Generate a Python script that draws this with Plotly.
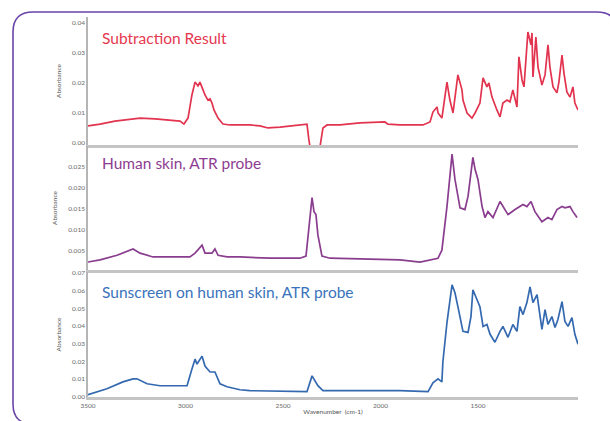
import plotly.graph_objects as go
from plotly.subplots import make_subplots

# ---- spectra (wavenumber in cm-1, absorbance) ----
sub_wn = [3500, 3438, 3362, 3285, 3233, 3156, 3079, 3028, 3008, 2987, 2967, 2951, 2936, 2926,
          2910, 2900, 2885, 2874, 2864, 2854, 2833, 2808, 2772, 2669, 2618, 2577, 2515, 2413,
          2377, 2367, 2351, 2321, 2310, 2295, 2274, 2208, 2105, 1977, 1962, 1900, 1782, 1746,
          1731, 1710, 1705, 1685, 1659, 1644, 1628, 1603, 1582, 1577, 1556, 1531, 1515, 1490,
          1474, 1454, 1444, 1428, 1403, 1387, 1372, 1351, 1336, 1321, 1300, 1290, 1274, 1264,
          1244, 1228, 1223, 1218, 1203, 1192, 1172, 1156, 1141, 1131, 1115, 1095, 1085, 1069,
          1059, 1044, 1028, 1013, 1003, 987]
sub_abs = [0.0057, 0.0063, 0.0073, 0.0080, 0.0083, 0.0080, 0.0077, 0.0073, 0.0063, 0.0083,
           0.0160, 0.0203, 0.0190, 0.0203, 0.0177, 0.0160, 0.0143, 0.0147, 0.0133, 0.0110,
           0.0083, 0.0063, 0.0060, 0.0060, 0.0057, 0.0050, 0.0053, 0.0060, 0.0063, 0.0010,
           -0.0057, -0.0057, -0.0007, 0.0050, 0.0060, 0.0060, 0.0067, 0.0070, 0.0063, 0.0060,
           0.0060, 0.0070, 0.0103, 0.0120, 0.0100, 0.0083, 0.0203, 0.0143, 0.0100, 0.0227,
           0.0177, 0.0143, 0.0100, 0.0083, 0.0100, 0.0133, 0.0217, 0.0187, 0.0200, 0.0153,
           0.0110, 0.0087, 0.0133, 0.0143, 0.0137, 0.0177, 0.0120, 0.0287, 0.0210, 0.0187,
           0.0370, 0.0327, 0.0367, 0.0220, 0.0353, 0.0253, 0.0193, 0.0227, 0.0327, 0.0253,
           0.0187, 0.0167, 0.0203, 0.0293, 0.0233, 0.0170, 0.0153, 0.0187, 0.0133, 0.0110]

skin_wn = [3500, 3438, 3351, 3285, 3269, 3233, 3167, 3064, 2977, 2951, 2915, 2900, 2864, 2849,
           2833, 2787, 2721, 2567, 2413, 2382, 2367, 2351, 2341, 2331, 2321, 2300, 2259, 2105,
           1900, 1797, 1705, 1685, 1659, 1633, 1618, 1592, 1567, 1551, 1526, 1515, 1500, 1479,
           1464, 1449, 1423, 1387, 1372, 1346, 1310, 1269, 1249, 1228, 1208, 1172, 1141, 1121,
           1095, 1069, 1054, 1028, 1013, 992]
skin_abs = [0.0024, 0.0029, 0.0040, 0.0052, 0.0055, 0.0045, 0.0036, 0.0036, 0.0036, 0.0045,
            0.0064, 0.0045, 0.0045, 0.0055, 0.0040, 0.0036, 0.0036, 0.0033, 0.0033, 0.0038,
            0.0100, 0.0176, 0.0143, 0.0136, 0.0088, 0.0038, 0.0033, 0.0031, 0.0029, 0.0024,
            0.0033, 0.0052, 0.0155, 0.0279, 0.0219, 0.0152, 0.0148, 0.0179, 0.0271, 0.0243,
            0.0219, 0.0155, 0.0129, 0.0143, 0.0129, 0.0167, 0.0155, 0.0136, 0.0148, 0.0160,
            0.0155, 0.0167, 0.0143, 0.0119, 0.0129, 0.0124, 0.0148, 0.0155, 0.0152, 0.0155,
            0.0143, 0.0129]

sun_wn = [3500, 3403, 3321, 3269, 3249, 3197, 3131, 3064, 2992, 2967, 2951, 2941, 2915, 2900,
          2874, 2849, 2823, 2787, 2721, 2669, 2413, 2377, 2351, 2336, 2321, 2295, 2156, 1900,
          1756, 1731, 1705, 1685, 1680, 1659, 1633, 1618, 1603, 1577, 1551, 1536, 1526, 1505,
          1490, 1474, 1454, 1438, 1413, 1387, 1372, 1346, 1321, 1300, 1285, 1269, 1249, 1233,
          1218, 1197, 1172, 1156, 1141, 1121, 1105, 1090, 1069, 1054, 1038, 1018, 1003, 987]
sun_abs = [0.0010, 0.0044, 0.0083, 0.0100, 0.0100, 0.0072, 0.0061, 0.0061, 0.0061, 0.0156,
           0.0212, 0.0184, 0.0229, 0.0173, 0.0139, 0.0139, 0.0072, 0.0055, 0.0038, 0.0033,
           0.0027, 0.0027, 0.0117, 0.0089, 0.0061, 0.0033, 0.0033, 0.0033, 0.0027, 0.0078,
           0.0100, 0.0083, 0.0196, 0.0420, 0.0634, 0.0589, 0.0510, 0.0370, 0.0364, 0.0454,
           0.0606, 0.0549, 0.0510, 0.0398, 0.0409, 0.0353, 0.0308, 0.0370, 0.0398, 0.0336,
           0.0409, 0.0370, 0.0510, 0.0465, 0.0533, 0.0622, 0.0533, 0.0578, 0.0381, 0.0493,
           0.0409, 0.0454, 0.0392, 0.0437, 0.0538, 0.0426, 0.0398, 0.0448, 0.0353, 0.0297]

panel_titles = ["Subtraction Result", "Human skin, ATR probe", "Sunscreen on human skin, ATR probe"]
x_ticks = [3500, 3000, 2500, 2000, 1500]
y_ticks = [[0.00, 0.01, 0.02, 0.03, 0.04],
           [0.005, 0.010, 0.015, 0.020, 0.025],
           [0.00, 0.01, 0.02, 0.03, 0.04, 0.05, 0.06, 0.07]]
y_tick_text = [["0.00", "0.01", "0.02", "0.03", "0.04"],
               ["0.005", "0.010", "0.015", "0.020", "0.025"],
               ["0.00", "0.01", "0.02", "0.03", "0.04", "0.05", "0.06", "0.07"]]

# ---- styling ----
W, H = 610, 421
ML, MR, MT, MB = 88, 32, 17, 24
line_colors = ["#e2334f", "#8a3d8e", "#3469b0"]
text_colors = ["#e5384f", "#8e3d93", "#3a73bb"]
y_ranges = [[-0.0007, 0.042], [0.0005, 0.0298], [-0.0003, 0.0707]]
domains = [[0.663, 1.0], [0.334, 0.6605], [0.0, 0.329]]
axis_grey = "#c4c4c4"
font_family = "Lato, 'Open Sans', sans-serif"

fig = make_subplots(rows=3, cols=1, shared_xaxes=True, vertical_spacing=0.005)

series = [(sub_wn, sub_abs), (skin_wn, skin_abs), (sun_wn, sun_abs)]
for i, (wn, ab) in enumerate(series):
    fig.add_trace(go.Scatter(x=wn, y=ab, mode="lines",
                             line=dict(color=line_colors[i], width=1.7),
                             showlegend=False, hoverinfo="skip"), row=i + 1, col=1)

for i in range(3):
    xa = "xaxis" if i == 0 else f"xaxis{i + 1}"
    ya = "yaxis" if i == 0 else f"yaxis{i + 1}"
    fig.layout[xa].update(range=[3500, 987], showgrid=False, zeroline=False,
                          showline=True, linecolor=axis_grey, linewidth=3,
                          ticks="", showticklabels=(i == 2), automargin=False,
                          tickvals=x_ticks, tickfont=dict(size=6.5, color="#6a6a6a",
                                                          family=font_family))
    fig.layout[ya].update(domain=domains[i], range=y_ranges[i], showgrid=False,
                          zeroline=False, showline=True, linecolor="#b5b5b5",
                          linewidth=1.5, ticks="", tickvals=y_ticks[i],
                          ticktext=y_tick_text[i], automargin=False,
                          tickfont=dict(size=6.5, color="#6a6a6a", family=font_family),
                          title=dict(text="Absorbance", standoff=10,
                                     font=dict(size=6.5, color="#555555",
                                               family=font_family)))

fig.layout.xaxis3.title = dict(text="Wavenumber  (cm-1)", standoff=2,
                               font=dict(size=6.5, color="#555555", family=font_family))

# panel titles
title_y_px = [38, 163, 292]
for i, t in enumerate(panel_titles):
    fig.add_annotation(text=t, xref="paper", yref="paper",
                       x=(100 - ML) / (W - ML - MR),
                       y=1 - (title_y_px[i] - MT) / (H - MT - MB),
                       xanchor="left", yanchor="middle", showarrow=False,
                       font=dict(size=15.5, color=text_colors[i], family=font_family))


# rounded purple frame: left edge, top edge and the corners that fall inside the page
def px(xp):
    return (xp - ML) / (W - ML - MR)


def py(yp):
    return 1 - (yp - MT) / (H - MT - MB)


x0, y0, x1, y1, r = 13, 12, 617, 424, 20
path = (f"M {px(x0 + r)},{py(y1)} Q {px(x0)},{py(y1)} {px(x0)},{py(y1 - r)} "
        f"L {px(x0)},{py(y0 + r)} Q {px(x0)},{py(y0)} {px(x0 + r)},{py(y0)} "
        f"L {px(x1 - r)},{py(y0)} Q {px(x1)},{py(y0)} {px(x1)},{py(y0 + r)}")
fig.add_shape(type="path", path=path, xref="paper", yref="paper",
              line=dict(color="#6a44a8", width=1.6), fillcolor="rgba(0,0,0,0)",
              layer="below")

fig.update_layout(width=W, height=H, margin=dict(l=ML, r=MR, t=MT, b=MB),
                  paper_bgcolor="white", plot_bgcolor="white",
                  font=dict(family=font_family))

fig.write_html("out.html")
